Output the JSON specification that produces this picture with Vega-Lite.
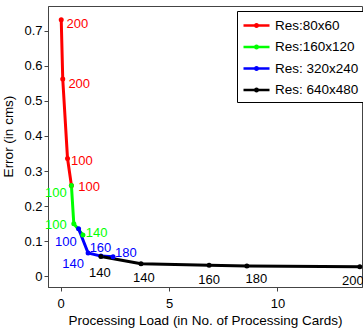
{
  "$schema": "https://vega.github.io/schema/vega-lite/v6.json",
  "width": 314,
  "height": 281,
  "autosize": "none",
  "padding": {"left": 48, "top": 6, "right": 1, "bottom": 41},
  "config": {
    "font": "Liberation Sans",
    "view": {"stroke": "#444", "strokeWidth": 1},
    "axis": {
      "grid": false,
      "domainColor": "#444",
      "tickColor": "#444",
      "tickSize": 4,
      "labelFontSize": 13,
      "labelColor": "black",
      "titleFontSize": 13.5,
      "titleFontWeight": "normal",
      "titleColor": "black"
    }
  },
  "datasets": {
    "lines": [
      {"series": "Res:80x60", "load": 0.03, "error": 0.731},
      {"series": "Res:80x60", "load": 0.1, "error": 0.562},
      {"series": "Res:80x60", "load": 0.32, "error": 0.336},
      {"series": "Res:80x60", "load": 0.5, "error": 0.259},
      {"series": "Res:160x120", "load": 0.5, "error": 0.259},
      {"series": "Res:160x120", "load": 0.61, "error": 0.15},
      {"series": "Res:160x120", "load": 1.03, "error": 0.118},
      {"series": "Res: 320x240", "load": 0.83, "error": 0.136},
      {"series": "Res: 320x240", "load": 1.27, "error": 0.067},
      {"series": "Res: 320x240", "load": 1.86, "error": 0.058},
      {"series": "Res: 320x240", "load": 2.42, "error": 0.056},
      {"series": "Res: 640x480", "load": 1.86, "error": 0.057},
      {"series": "Res: 640x480", "load": 3.71, "error": 0.036},
      {"series": "Res: 640x480", "load": 6.85, "error": 0.032},
      {"series": "Res: 640x480", "load": 8.59, "error": 0.03},
      {"series": "Res: 640x480", "load": 13.8, "error": 0.028}
    ],
    "labels": [
      {"series": "Res:80x60", "load": 0.77, "error": 0.718, "text": "200"},
      {"series": "Res:80x60", "load": 0.86, "error": 0.548, "text": "200"},
      {"series": "Res:80x60", "load": 0.98, "error": 0.328, "text": "100"},
      {"series": "Res:80x60", "load": 1.32, "error": 0.256, "text": "100"},
      {"series": "Res:160x120", "load": -0.22, "error": 0.237, "text": "100"},
      {"series": "Res:160x120", "load": -0.22, "error": 0.147, "text": "100"},
      {"series": "Res:160x120", "load": 1.66, "error": 0.125, "text": "140"},
      {"series": "Res: 320x240", "load": 0.24, "error": 0.097, "text": "100"},
      {"series": "Res: 320x240", "load": 0.58, "error": 0.035, "text": "140"},
      {"series": "Res: 320x240", "load": 1.84, "error": 0.08, "text": "160"},
      {"series": "Res: 320x240", "load": 3.01, "error": 0.067, "text": "180"},
      {"series": "Res: 640x480", "load": 1.81, "error": 0.011, "text": "140"},
      {"series": "Res: 640x480", "load": 3.84, "error": -0.005, "text": "140"},
      {"series": "Res: 640x480", "load": 6.85, "error": -0.009, "text": "160"},
      {"series": "Res: 640x480", "load": 9.03, "error": -0.006, "text": "180"},
      {"series": "Res: 640x480", "load": 13.48, "error": -0.014, "text": "200"}
    ]
  },
  "layer": [
    {
      "data": {"name": "lines"},
      "mark": {"type": "line", "strokeWidth": 3},
      "encoding": {
        "x": {
          "field": "load", "type": "quantitative",
          "scale": {"domain": [-0.58, 13.9], "nice": false, "zero": false},
          "axis": {"values": [0, 5, 10], "title": "Processing Load (in No. of Processing Cards)", "labelPadding": 6, "titlePadding": 3}
        },
        "y": {
          "field": "error", "type": "quantitative",
          "scale": {"domain": [-0.03, 0.77], "nice": false, "zero": false},
          "axis": {"values": [0, 0.1, 0.2, 0.3, 0.4, 0.5, 0.6, 0.7], "labelExpr": "datum.value == 0 ? '0' : format(datum.value, '.1f')", "title": "Error (in cms)", "titlePadding": 8, "titleY": 130}
        },
        "color": {
          "field": "series", "type": "nominal",
          "scale": {"domain": ["Res:80x60", "Res:160x120", "Res: 320x240", "Res: 640x480"], "range": ["#ff0000", "#00ff00", "#0000ff", "#000000"]},
          "legend": {
            "orient": "none", "legendX": 189, "legendY": 5, "title": null,
            "symbolType": "M-1.625,0H1.625M-0.17,0A0.17,0.17,0,1,1,0.17,0A0.17,0.17,0,1,1,-0.17,0",
            "symbolSize": 256, "symbolStrokeWidth": 2.5, "symbolOffset": 5,
            "labelFontSize": 13.5, "labelColor": "black", "labelOffset": 9,
            "strokeColor": "black", "fillColor": "white", "padding": 5, "rowPadding": 5.5, "cornerRadius": 0,
            "encode": {"symbols": {"update": {"fill": {"scale": "color", "field": "value"}}}}
          }
        }
      }
    },
    {
      "data": {"name": "lines"},
      "mark": {"type": "point", "filled": true, "size": 25, "opacity": 1},
      "encoding": {
        "x": {"field": "load", "type": "quantitative"},
        "y": {"field": "error", "type": "quantitative"},
        "color": {"field": "series", "type": "nominal", "legend": null}
      }
    },
    {
      "data": {"name": "labels"},
      "mark": {"type": "text", "fontSize": 13, "align": "center", "baseline": "middle"},
      "encoding": {
        "x": {"field": "load", "type": "quantitative"},
        "y": {"field": "error", "type": "quantitative"},
        "text": {"field": "text"},
        "color": {"field": "series", "type": "nominal", "legend": null}
      }
    }
  ]
}
